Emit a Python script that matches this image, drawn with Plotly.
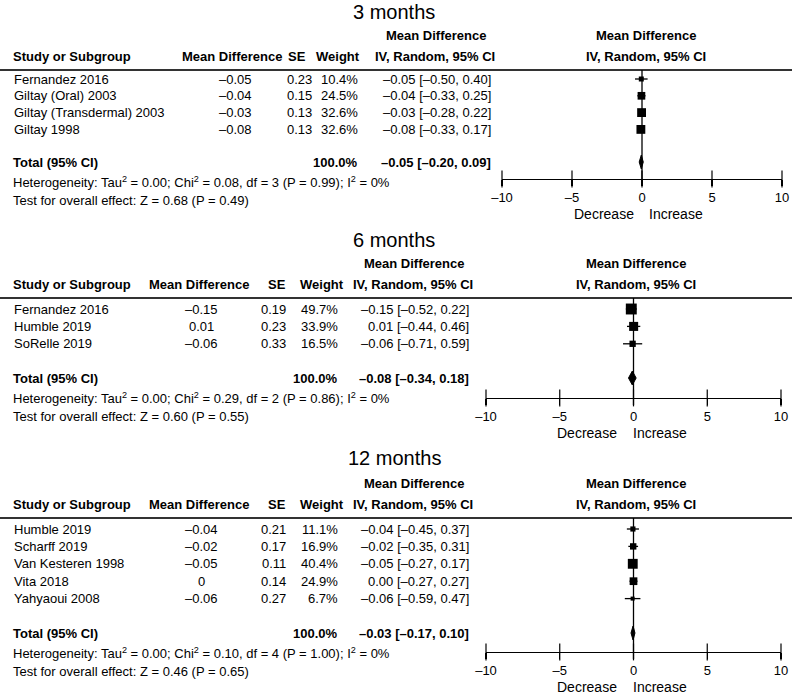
import plotly.graph_objects as go

W, H = 792, 695
OFF = 0  # body margin is removed by the post script, so figure pixels = screenshot pixels
FONT = "Liberation Sans, Arial, Helvetica, sans-serif"
INK = "#000000"

# ---------------- data ----------------
titles = ["3 months", "6 months", "12 months"]

studies_3m = ["Fernandez 2016", "Giltay (Oral) 2003", "Giltay (Transdermal) 2003", "Giltay 1998"]
md_3m = [-0.05, -0.04, -0.03, -0.08]
se_3m = [0.23, 0.15, 0.13, 0.13]
weight_3m = [10.4, 24.5, 32.6, 32.6]
lo_3m = [-0.50, -0.33, -0.28, -0.33]
hi_3m = [0.40, 0.25, 0.22, 0.17]
total_3m = [-0.05, -0.20, 0.09]
het_3m = ["0.00", "0.08", "3", "0.99", "0"]
effect_3m = ["0.68", "0.49"]

studies_6m = ["Fernandez 2016", "Humble 2019", "SoRelle 2019"]
md_6m = [-0.15, 0.01, -0.06]
se_6m = [0.19, 0.23, 0.33]
weight_6m = [49.7, 33.9, 16.5]
lo_6m = [-0.52, -0.44, -0.71]
hi_6m = [0.22, 0.46, 0.59]
total_6m = [-0.08, -0.34, 0.18]
het_6m = ["0.00", "0.29", "2", "0.86", "0"]
effect_6m = ["0.60", "0.55"]

studies_12m = ["Humble 2019", "Scharff 2019", "Van Kesteren 1998", "Vita 2018", "Yahyaoui 2008"]
md_12m = [-0.04, -0.02, -0.05, 0, -0.06]
se_12m = [0.21, 0.17, 0.11, 0.14, 0.27]
weight_12m = [11.1, 16.9, 40.4, 24.9, 6.7]
lo_12m = [-0.45, -0.35, -0.27, -0.27, -0.59]
hi_12m = [0.37, 0.31, 0.17, 0.27, 0.47]
total_12m = [-0.03, -0.17, 0.10]
het_12m = ["0.00", "0.10", "4", "1.00", "0"]
effect_12m = ["0.46", "0.65"]

tick_vals = [-10, -5, 0, 5, 10]
tick_text = ["\u201310", "\u20135", "0", "5", "10"]

panels_data = [
    dict(names=studies_3m, md=md_3m, se=se_3m, w=weight_3m, lo=lo_3m, hi=hi_3m,
         total=total_3m, het=het_3m, eff=effect_3m),
    dict(names=studies_6m, md=md_6m, se=se_6m, w=weight_6m, lo=lo_6m, hi=hi_6m,
         total=total_6m, het=het_6m, eff=effect_6m),
    dict(names=studies_12m, md=md_12m, se=se_12m, w=weight_12m, lo=lo_12m, hi=hi_12m,
         total=total_12m, het=het_12m, eff=effect_12m),
]

# ---------------- layout geometry (screenshot pixels) ----------------
geo = [
    dict(title=12, line=70, row0=79, dy=16.8, total=162, axis=179,
         md_c=232, se_r=314, se_c=297, w_r=360, w_c=338, ci_r=493, ci_h1=488, ci_h2=497,
         f_c=646, ax=(502, 782), dec_r=636, inc_l=647),
    dict(title=240, line=298, row0=309, dy=17.4, total=378, axis=398,
         md_c=199, se_r=288, se_c=277, w_r=340, w_c=322, ci_r=471, ci_h1=466, ci_h2=475,
         f_c=636, ax=(486, 781), dec_r=619, inc_l=631),
    dict(title=458, line=518, row0=529, dy=17.4, total=633, axis=652,
         md_c=199, se_r=288, se_c=277, w_r=340, w_c=322, ci_r=471, ci_h1=466, ci_h2=475,
         f_c=636, ax=(486, 781), dec_r=619, inc_l=631),
]


def px(x):
    return (x - OFF) / W


def fmt(v, zero_plain=False):
    if zero_plain and v == 0:
        return "0"
    s = f"{v:.2f}"
    return s.replace("-", "\u2013")


fig = go.Figure()
annotations = []
shapes = []


def ann(text, x, y, anchor="left", size=13, bold=False):
    if bold:
        text = f"<b>{text}</b>"
    annotations.append(dict(text=text, x=px(x), y=y, xref="paper", yref="y",
                            xanchor=anchor, yanchor="middle", showarrow=False,
                            font=dict(family=FONT, size=size, color=INK)))


layout_axes = {}
for k, (d, g) in enumerate(zip(panels_data, geo)):
    xa = "x" if k == 0 else f"x{k + 1}"
    xkey = "xaxis" if k == 0 else f"xaxis{k + 1}"
    n = len(d["names"])
    rows = [g["row0"] + i * g["dy"] for i in range(n)]

    # title and headers
    ann(titles[k], 394, g["title"], "center", size=20)
    hdr1 = g["line"] - 35
    hdr2 = g["line"] - 14
    ann("Mean Difference", g["ci_h1"], hdr1, "right", bold=True)
    ann("Mean Difference", g["f_c"], hdr1, "center", bold=True)
    ann("Study or Subgroup", 11, hdr2, "left", bold=True)
    ann("Mean Difference", g["md_c"], hdr2, "center", bold=True)
    ann("SE", g["se_c"], hdr2, "center", bold=True)
    ann("Weight", g["w_c"], hdr2, "center", bold=True)
    ann("IV, Random, 95% CI", g["ci_h2"], hdr2, "right", bold=True)
    ann("IV, Random, 95% CI", g["f_c"], hdr2, "center", bold=True)

    shapes.append(dict(type="line", xref="paper", yref="y", x0=0, x1=1,
                       y0=g["line"], y1=g["line"], line=dict(color="#333333", width=2)))

    # study rows
    for i in range(n):
        y = rows[i]
        ann(d["names"][i], 12, y, "left")
        ann(fmt(d["md"][i], zero_plain=True), g["md_c"] + 3, y, "center")
        ann(f"{d['se'][i]:.2f}", g["se_r"], y, "right")
        ann(f"{d['w'][i]:.1f}%", g["w_r"], y, "right")
        ann(f"{fmt(d['md'][i])} [{fmt(d['lo'][i])}, {fmt(d['hi'][i])}]", g["ci_r"], y, "right")

    # totals
    tm, tl, th = d["total"]
    ann("Total (95% CI)", 11, g["total"], "left", bold=True)
    ann("100.0%", g["w_r"], g["total"], "right", bold=True)
    ann(f"{fmt(tm)} [{fmt(tl)}, {fmt(th)}]", g["ci_r"], g["total"], "right", bold=True)
    tau, chi, df, p, i2 = d["het"]
    ann(f"Heterogeneity: Tau<sup>2</sup> = {tau}; Chi<sup>2</sup> = {chi}, df = {df} "
        f"(P = {p}); I<sup>2</sup> = {i2}%", 11, g["total"] + 19.5, "left")
    z, pz = d["eff"]
    ann(f"Test for overall effect: Z = {z} (P = {pz})", 11, g["total"] + 38, "left")

    ann("Decrease", g["dec_r"], g["axis"] + 35, "right", size=14)
    ann("Increase", g["inc_l"], g["axis"] + 35, "left", size=14)

    # zero line
    shapes.append(dict(type="line", xref=xa, yref="y", x0=0, x1=0,
                       y0=g["line"], y1=g["axis"] + 7, line=dict(color=INK, width=1.3)))

    # CIs + squares
    fig.add_trace(go.Scatter(
        x=d["md"], y=rows, mode="markers", xaxis=xa, yaxis="y",
        marker=dict(symbol="square", color="black", opacity=1,
                    size=[1.55 * (w ** 0.5) for w in d["w"]], line=dict(width=0)),
        error_x=dict(type="data", symmetric=False,
                     array=[h - m for h, m in zip(d["hi"], d["md"])],
                     arrayminus=[m - l for m, l in zip(d["md"], d["lo"])],
                     width=0, thickness=1.3, color="black"),
        showlegend=False, hoverinfo="skip"))

    # diamond
    ty = g["total"]
    fig.add_trace(go.Scatter(
        x=[tl, tm, th, tm, tl], y=[ty, ty - 7, ty, ty + 7, ty],
        mode="lines", fill="toself", fillcolor="black",
        line=dict(color="black", width=1), xaxis=xa, yaxis="y",
        showlegend=False, hoverinfo="skip"))

    # tick marks crossing the axis line
    fig.add_trace(go.Scatter(
        x=tick_vals, y=[g["axis"]] * len(tick_vals), mode="markers", xaxis=xa, yaxis="y",
        marker=dict(symbol="line-ns-open", size=12, color=INK, opacity=1,
                    line=dict(color=INK, width=1.2)),
        showlegend=False, hoverinfo="skip", cliponaxis=False))

    layout_axes[xkey] = dict(
        domain=[px(g["ax"][0]), px(g["ax"][1])], range=[-10, 10],
        anchor="free", position=1 - (g["axis"] - OFF) / H, automargin=False,
        showline=True, linecolor=INK, linewidth=1.2,
        showgrid=False, zeroline=False,
        tickmode="array", tickvals=tick_vals, ticktext=tick_text,
        ticks="outside", ticklen=6, tickcolor=INK, tickwidth=1.2,
        tickfont=dict(family=FONT, size=13, color=INK), fixedrange=True)

fig.update_layout(
    width=W, height=H,
    margin=dict(l=0, r=0, t=0, b=0, autoexpand=False),
    paper_bgcolor="white", plot_bgcolor="rgba(0,0,0,0)",
    yaxis=dict(range=[H + OFF, OFF], domain=[0, 1], visible=False, fixedrange=True,
               anchor="free", position=0, automargin=False),
    annotations=annotations, shapes=shapes,
    showlegend=False,
)
fig.update_layout(**layout_axes)

fig.write_html("out.html",
               config={"displayModeBar": False, "staticPlot": True},
               post_script="document.body.style.margin='0px';document.body.style.overflow='hidden';")
